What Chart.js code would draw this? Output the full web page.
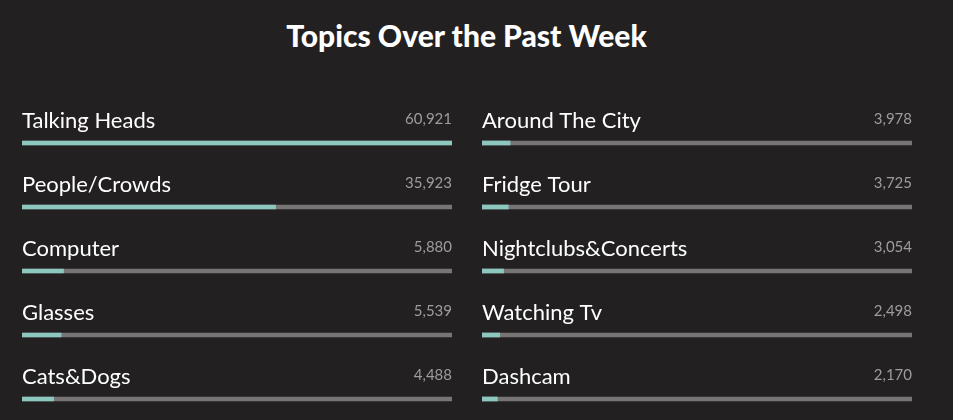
<!DOCTYPE html>
<html>
<head>
<meta charset="utf-8">
<script src="https://cdn.jsdelivr.net/npm/chart.js@4.4.0/dist/chart.umd.min.js"></script>
<style>
  html, body { margin: 0; padding: 0; background: #222021; }
  body { width: 953px; height: 420px; position: relative; overflow: hidden; font-family: Lato, sans-serif; }
  h1 { position: absolute; left: -10px; width: 953px; top: 17px; margin: 0; text-align: center;
       color: #ffffff; font: 900 30px Lato, sans-serif; }
  canvas { position: absolute; top: 80px; }
  #leftChart { left: 22px; }
  #rightChart { left: 482px; }
</style>
</head>
<body>
<h1>Topics Over the Past Week</h1>
<canvas id="leftChart" width="430" height="340"></canvas>
<canvas id="rightChart" width="430" height="340"></canvas>
<script>
const leftTopics = ["Talking Heads", "People/Crowds", "Computer", "Glasses", "Cats&Dogs"];
const leftCounts = [60921, 35923, 5880, 5539, 4488];
const rightTopics = ["Around The City", "Fridge Tour", "Nightclubs&Concerts", "Watching Tv", "Dashcam"];
const rightCounts = [3978, 3725, 3054, 2498, 2170];
const maxCount = Math.max(...leftCounts, ...rightCounts);

const labelPlugin = {
    id: "topicLabels",
    afterDatasetsDraw(chart) {
        const ctx = chart.ctx;
        const yScale = chart.scales.y;
        const area = chart.chartArea;
        const counts = chart.data.datasets[0].data;
        ctx.save();
        chart.data.labels.forEach((label, i) => {
            const y = yScale.getPixelForValue(i);
            ctx.fillStyle = "#ffffff";
            ctx.font = "22px Lato, sans-serif";
            ctx.textAlign = "left";
            ctx.textBaseline = "alphabetic";
            ctx.fillText(label, area.left, y - 15);
            ctx.fillStyle = "#9e9c9d";
            ctx.font = "15px Lato, sans-serif";
            ctx.textAlign = "right";
            ctx.fillText(counts[i].toLocaleString("en-US"), area.right, y - 19);
        });
        ctx.restore();
    }
};

function makeChart(id, topics, counts) {
    return new Chart(document.getElementById(id), {
        type: "bar",
        data: {
            labels: topics,
            datasets: [
                {
                    label: "Count",
                    data: counts,
                    backgroundColor: "#8cc8bd",
                    barThickness: 4,
                    order: 0,
                    clip: false
                },
                {
                    label: "Track",
                    data: topics.map(() => maxCount),
                    backgroundColor: "#777575",
                    barThickness: 4,
                    order: 1,
                    clip: false
                }
            ]
        },
        options: {
            indexAxis: "y",
            responsive: false,
            animation: false,
            layout: { padding: { top: 63, bottom: 21, left: 0, right: 0 } },
            datasets: { bar: { grouped: false } },
            plugins: {
                legend: { display: false },
                tooltip: { enabled: false },
                title: { display: false }
            },
            scales: {
                x: { display: false, min: 0, max: maxCount },
                y: { display: false, offset: false }
            }
        },
        plugins: [labelPlugin]
    });
}

makeChart("leftChart", leftTopics, leftCounts);
makeChart("rightChart", rightTopics, rightCounts);
</script>
</body>
</html>
